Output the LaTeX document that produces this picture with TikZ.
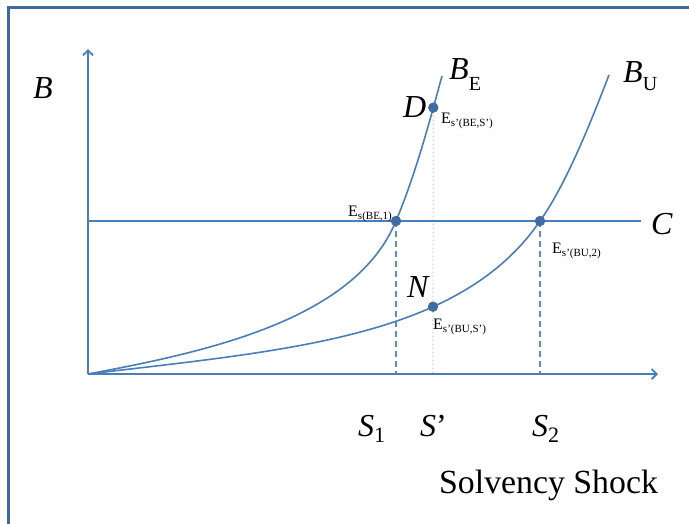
\documentclass[tikz,border=0pt]{standalone}
\usepackage{fontspec}
\setmainfont{Liberation Serif}
\usetikzlibrary{arrows.meta}
\definecolor{axisblue}{HTML}{4A7EBB}
\definecolor{frameblue}{HTML}{41699C}
\definecolor{dotblue}{HTML}{3E6CA6}
\definecolor{dashblue}{HTML}{5B8BC9}
\definecolor{lightdot}{HTML}{BDD3EE}
\newcommand{\fs}[1]{\fontsize{#1}{#1}\selectfont}
\tikzset{
  axisline/.style={draw=axisblue,line width=2pt,-{Straight Barb[length=5pt,width=10pt,line width=1.8pt]}},
  curveline/.style={draw=axisblue,line width=1.6pt},
  cline/.style={draw=axisblue,line width=2pt},
  dashline/.style={draw=dashblue,line width=1.6pt,dash pattern=on 6pt off 4pt},
  dotline/.style={draw=lightdot,line width=1.2pt,dash pattern=on 1.5pt off 2.5pt},
  ptdot/.style={circle,fill=dotblue,draw=frameblue,line width=0.8pt,minimum size=9.5pt,inner sep=0pt},
  biglbl/.style={inner sep=0pt,anchor=base west,font=\fs{32}},
  smalllbl/.style={inner sep=0pt,anchor=base west,font=\fs{16}},
}
\newcommand{\esub}[1]{E\raisebox{-3pt}{\fs{11}#1}}
\begin{document}
\begin{tikzpicture}[x=1pt,y=-1pt]
\useasboundingbox (0,0) rectangle (689,523);
% frame
\draw[frameblue,line width=2.5pt] (8.5,530) -- (8.5,7.5) -- (700,7.5);
% named points
\coordinate (O) at (88,374);
\coordinate (ytop) at (88,49);
\coordinate (xend) at (658,374);
\coordinate (Cstart) at (88,221);
\coordinate (Cend) at (641,221);
\coordinate (E1) at (396,221);
\coordinate (E2) at (540,221);
\coordinate (D) at (433.3,107.6);
\coordinate (N) at (433,306.7);
\coordinate (BEtop) at (442,76);
\coordinate (BUtop) at (609,75);
\coordinate (S1) at (396,374);
\coordinate (S2) at (540,374);
\coordinate (Sp) at (433,374);
% dotted and dashed verticals
\draw[dotline] (D) -- (Sp);
\draw[dashline] (E1) -- (S1);
\draw[dashline] (E2) -- (S2);
% axes
\draw[axisline] (O) -- (ytop);
\draw[axisline] (O) -- (xend);
\draw[cline] (Cstart) -- (Cend);
% curves
\draw[curveline] (O) .. controls (218,350) and (356,317) .. (E1)
   .. controls (416,173) and (430,120) .. (BEtop);
\draw[curveline] (O) .. controls (288,350) and (460,338) .. (E2)
   .. controls (565,186) and (589,127) .. (BUtop);
% dots
\node[ptdot] (dE1) at (E1) {};
\node[ptdot] (dE2) at (E2) {};
\node[ptdot] (dD) at (D) {};
\node[ptdot] (dN) at (N) {};
% labels
\node[biglbl] (lB) at (33,98) {\textit{B}};
\node[biglbl] (lBE) at (449,79) {\textit{B}\raisebox{-11pt}{\fs{20}E}};
\node[biglbl] (lBU) at (623,82) {\textit{B}\raisebox{-8pt}{\fs{20}U}};
\node[biglbl] (lC) at (651,234) {\textit{C}};
\node[biglbl] (lD) at (403,117) {\textit{D}};
\node[biglbl] (lN) at (407,297) {\textit{N}};
\node[smalllbl] (lE1) at (348,216) {\esub{s(BE,1)}};
\node[smalllbl] (lE2) at (552,253) {\esub{s’(BU,2)}};
\node[smalllbl] (lED) at (441,123) {\esub{s’(BE,S’)}};
\node[smalllbl] (lEN) at (433,329) {\esub{s’(BU,S’)}};
\node[biglbl] (lS1) at (358,436) {\textit{S}\raisebox{-6pt}{\fs{22}1}};
\node[biglbl] (lSp) at (420,436) {\textit{S}’};
\node[biglbl] (lS2) at (532,436) {\textit{S}\raisebox{-6pt}{\fs{22}2}};
\node[biglbl,font=\fs{33.8}] (lSS) at (439,493) {Solvency Shock};
\end{tikzpicture}
\end{document}
